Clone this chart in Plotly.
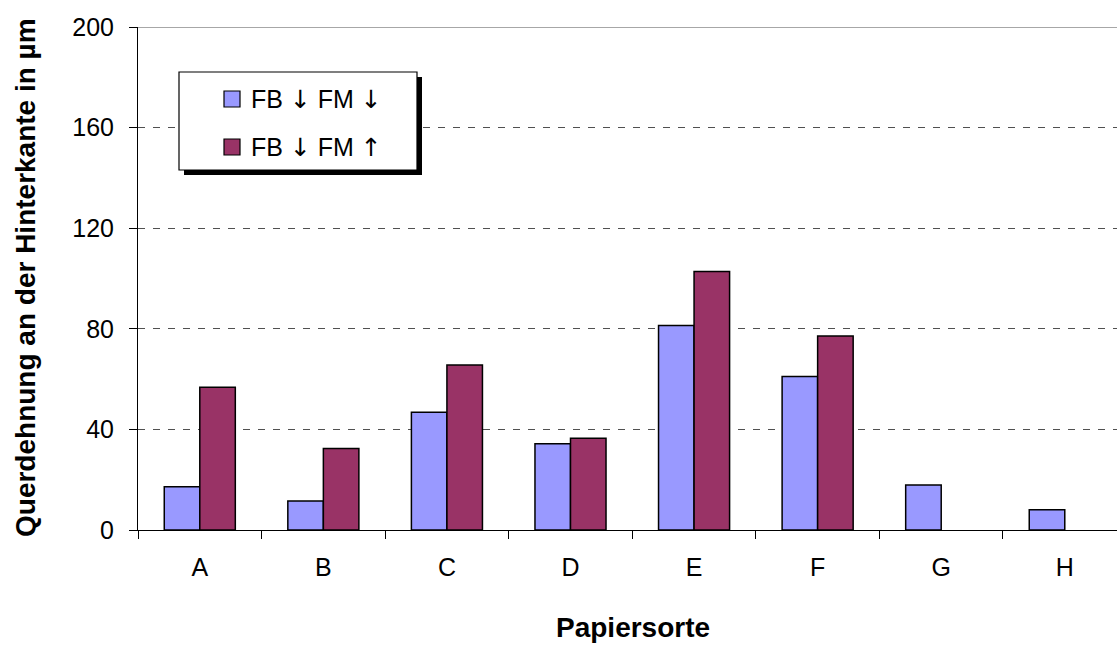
import plotly.graph_objects as go

# Paper grades and transverse strain at the trailing edge (µm)
sorten = ["A", "B", "C", "D", "E", "F", "G", "H"]
fb_ab_fm_ab = [17.2, 11.5, 46.8, 34.3, 81.3, 61.0, 17.9, 8.1]
fb_ab_fm_auf = [56.8, 32.4, 65.6, 36.5, 102.8, 77.1, None, None]

ARROW = '<span style="font-family:DejaVu Sans">{}</span>'
DOWN, UP = ARROW.format("\u2193"), ARROW.format("\u2191")
serien_namen = [f"FB {DOWN} FM {DOWN}", f"FB {DOWN} FM {UP}"]
serien_farben = ["#9999FF", "#993366"]
y_ticks = [0, 40, 80, 120, 160, 200]

FONT = "Liberation Sans, Arial, sans-serif"
W, H = 1117, 645
M_L, M_R, M_T, M_B = 138, 0, 27, 115
PW, PH = W - M_L - M_R, H - M_T - M_B
CAT_PX = 123.57  # width of one category slot in pixels


def px_x(px):
    return (px - M_L) / PW


def px_y(py):
    return (H - M_B - py) / PH


fig = go.Figure()
for name, vals, col in zip(serien_namen, [fb_ab_fm_ab, fb_ab_fm_auf], serien_farben):
    fig.add_trace(go.Bar(
        x=sorten, y=vals, name=name, showlegend=False,
        marker=dict(color=col, line=dict(color="black", width=1.5)),
    ))

x_end = -0.5 + PW / CAT_PX

fig.update_layout(
    width=W, height=H,
    margin=dict(l=M_L, r=M_R, t=M_T, b=M_B, autoexpand=False),
    paper_bgcolor="white", plot_bgcolor="white",
    barmode="group", bargap=0.425, bargroupgap=0,
    font=dict(family=FONT, color="black"),
    xaxis=dict(
        range=[-0.5, x_end], showgrid=False, zeroline=False,
        showline=True, linecolor="black", linewidth=1,
        ticks="outside", tickson="boundaries", ticklen=8, tickcolor="black",
        tickfont=dict(size=25, family=FONT, color="black"),
        ticklabelstandoff=15,
    ),
    yaxis=dict(
        range=[0, 200], tickvals=y_ticks, showgrid=True,
        gridcolor="#505050", gridwidth=1, griddash="7px,8px",
        zeroline=False, showline=True, linecolor="black", linewidth=1,
        ticks="outside", ticklen=8, tickcolor="black",
        tickfont=dict(size=25, family=FONT, color="black"),
        ticklabelstandoff=10,
    ),
)

shapes = [
    # solid top border of the plot area
    dict(type="line", xref="paper", yref="y", x0=0, x1=1, y0=200, y1=200,
         line=dict(color="#8a8a8a", width=1.5), layer="above"),
    # legend drop shadow and frame
    dict(type="rect", xref="paper", yref="paper",
         x0=px_x(184), x1=px_x(422), y0=px_y(175), y1=px_y(77),
         fillcolor="black", line=dict(width=0), layer="above"),
    dict(type="rect", xref="paper", yref="paper",
         x0=px_x(179), x1=px_x(417), y0=px_y(170), y1=px_y(72),
         fillcolor="white", line=dict(color="black", width=1.2), layer="above"),
]
annotations = []
row_centres = [99, 147]
for name, col, yc in zip(serien_namen, serien_farben, row_centres):
    shapes.append(dict(type="rect", xref="paper", yref="paper",
                       x0=px_x(224), x1=px_x(240), y0=px_y(yc + 8), y1=px_y(yc - 8),
                       fillcolor=col, line=dict(color="black", width=1.2), layer="above"))
    annotations.append(dict(text=name, xref="paper", yref="paper",
                            x=px_x(249), y=px_y(yc), xanchor="left", yanchor="middle",
                            showarrow=False, font=dict(size=25, family=FONT, color="black")))

annotations.append(dict(text="<b>Papiersorte</b>", xref="paper", yref="paper",
                        x=px_x(633), y=px_y(627), xanchor="center", yanchor="middle",
                        showarrow=False, font=dict(size=28, family=FONT, color="black")))
annotations.append(dict(text="<b>Querdehnung an der Hinterkante in \u00b5m</b>",
                        xref="paper", yref="paper", textangle=-90,
                        x=px_x(25), y=px_y(278), xanchor="center", yanchor="middle",
                        showarrow=False, font=dict(size=28, family=FONT, color="black")))

fig.update_layout(shapes=shapes, annotations=annotations)
fig.write_html("out.html")
